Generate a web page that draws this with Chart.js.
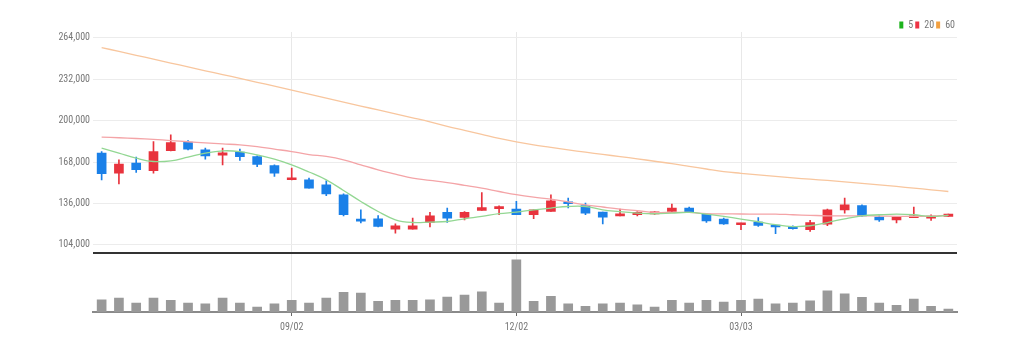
<!DOCTYPE html>
<html>
<head>
<meta charset="utf-8">
<script src="https://cdn.jsdelivr.net/npm/chart.js@4.4.1/dist/chart.umd.min.js"></script>
<style>
  html, body { margin: 0; padding: 0; background: #ffffff; }
  #wrap { position: relative; width: 1020px; height: 351px; }
</style>
</head>
<body>
<div id="wrap"><canvas id="c"></canvas></div>
<script>
// ---- data (weekly candles) ----
const dates = ['06/17','06/24','07/01','07/08','07/15','07/22','07/29','08/05','08/12','08/19',
  '08/26','09/02','09/09','09/16','09/23','09/30','10/07','10/14','10/21','10/28',
  '11/04','11/11','11/18','11/25','12/02','12/09','12/16','12/23','12/30','01/06',
  '01/13','01/20','01/27','02/03','02/10','02/17','02/24','03/03','03/10','03/17',
  '03/24','03/31','04/07','04/14','04/21','04/28','05/05','05/12','05/19','05/26'];

const openP  = [174900,159400,167100,161400,176700,183400,177400,173300,175600,172200,
  165300,154300,154200,150400,142600,123300,124100,116100,116100,121200,
  129000,125100,130500,132000,131600,127200,129700,136700,134400,129300,
  126400,127200,127900,129700,132400,127700,123900,119500,121500,118700,
  118100,115600,120000,131000,134400,125400,123300,124900,124600,125900];
const highP  = [176100,169700,171800,183800,189000,184600,178700,178700,178000,172800,
  165800,163300,155500,153500,143400,131000,126600,120200,124600,129000,
  132400,129700,144400,134100,137500,131000,142600,140100,136200,129300,
  131600,129700,129700,135500,133100,127700,124600,120800,125100,118700,
  118700,122800,131600,140100,134900,126400,125900,133100,127200,127700];
const lowP   = [154200,151100,159900,159400,176600,177400,170200,165800,169200,164500,
  156800,154200,147800,141900,126400,120800,117700,113000,116100,117700,
  121200,123300,130500,127200,127200,124100,129700,132400,127200,120200,
  126400,126400,127400,129000,129000,121200,119700,115600,118100,112500,
  116100,114300,118700,128500,125900,122000,120800,124900,122800,125900];
const closeP = [158900,166400,162000,176100,183000,178000,172800,175100,172200,166100,
  159400,155500,147800,143400,127200,122300,118100,118700,118700,126400,
  124600,129000,132800,133100,127200,131000,138000,135700,128500,125400,
  127700,129000,129300,132400,129500,122500,120200,120800,118900,117700,
  116400,121200,131000,134900,126400,123300,125400,125900,125600,127700];

const volume = [246000,280000,180000,280000,232000,180000,166000,280000,180000,100000,
  166000,232000,180000,280000,392000,380000,212000,232000,232000,246000,
  300000,340000,406000,180000,1046000,212000,312000,166000,112000,166000,
  180000,146000,100000,232000,180000,232000,200000,232000,260000,166000,
  180000,226000,426000,366000,292000,180000,132000,260000,112000,60000];

const ma5  = [178700,174900,171000,168400,168900,171800,174900,176650,176100,173550,
  170200,165800,160300,154200,146000,137500,129700,123300,121200,121500,
  122000,124100,125900,128000,129300,131000,132400,133600,133600,131000,
  129700,128500,128000,128500,129000,127700,125900,123900,121800,119500,
  118100,118700,121200,124100,126400,127200,127700,127200,125900,126700];
const ma20 = [187200,186800,186200,185500,184600,183700,182800,182000,181300,179900,
  178000,176100,173800,172300,169700,165800,162000,158700,155500,153800,
  152100,150000,147800,145200,142700,140800,139300,137100,134900,133200,
  131600,130300,129000,129000,129000,128100,127900,127800,127700,127700,
  127200,126800,126400,126400,126400,126200,126000,125900,126200,126700];
const ma60 = [256500,253600,250600,247600,244600,241700,238600,235700,232700,229700,
  226700,223600,220600,217500,214400,211300,208300,205200,202200,199100,
  195600,192500,189400,186300,183600,181300,179400,177400,175600,173900,
  172200,170500,168600,166800,164700,162600,160600,159300,158100,156900,
  155800,154700,153800,152700,151500,150400,149100,147800,146500,145200];

const maNames = ['5', '20', '60'];
const yTickValues = [104000, 136000, 168000, 200000, 232000, 264000];
const xTickLabels = ['09/02', '12/02', '03/03'];

// ---- styles ----
const UP = '#e8333d', DOWN = '#1a80e8';
const lineColors = ['#93d793', '#f4a4a7', '#f8c69e'];
const legendColors = ['#1db31d', '#ee3344', '#f2a040'];
const FONT = '"Liberation Sans Narrow", "Roboto Condensed", "DejaVu Sans Condensed", "Liberation Sans", sans-serif';

const candleColors = closeP.map((c, i) => c >= openP[i] ? UP : DOWN);

Chart.defaults.font.family = FONT;
Chart.defaults.font.size = 10;
Chart.defaults.color = '#777';

const legendHeight = {
  id: 'legendHeight',
  beforeInit(chart) {
    const lg = chart.legend;
    if (lg) {
      const origFit = lg.fit;
      lg.fit = function () { origFit.call(this); this.height = 14; };
    }
  }
};

new Chart(document.getElementById('c'), {
  type: 'bar',
  data: {
    labels: dates,
    datasets: [
      { type: 'line', label: maNames[0], data: ma5, yAxisID: 'y', borderColor: lineColors[0],
        borderWidth: 1.3, pointRadius: 0, tension: 0.4, fill: false, order: 0 },
      { type: 'line', label: maNames[1], data: ma20, yAxisID: 'y', borderColor: lineColors[1],
        borderWidth: 1.3, pointRadius: 0, tension: 0.4, fill: false, order: 0 },
      { type: 'line', label: maNames[2], data: ma60, yAxisID: 'y', borderColor: lineColors[2],
        borderWidth: 1.3, pointRadius: 0, tension: 0.4, fill: false, order: 0 },
      { label: 'body', data: openP.map((o, i) => [o, closeP[i]]), yAxisID: 'y',
        backgroundColor: candleColors, barThickness: 9, minBarLength: 2, grouped: false, order: 1 },
      { label: 'wick', data: lowP.map((l, i) => [l, highP[i]]), yAxisID: 'y',
        backgroundColor: candleColors, barThickness: 1, grouped: false, order: 2 },
      { label: 'volume', data: volume, yAxisID: 'yv',
        backgroundColor: '#999999', barThickness: 9, grouped: false, order: 3 }
    ]
  },
  plugins: [legendHeight],
  options: {
    responsive: true,
    maintainAspectRatio: false,
    animation: false,
    devicePixelRatio: 1,
    layout: { padding: { left: 39, right: 63, top: 18, bottom: 13 } },
    plugins: {
      tooltip: { enabled: false },
      legend: {
        display: true,
        position: 'top',
        align: 'end',
        labels: {
          boxWidth: 4,
          boxHeight: 7,
          padding: 2,
          color: '#777',
          font: { size: 10 },
          generateLabels: () => maNames.map((n, k) => ({
            text: n, fillStyle: legendColors[k], strokeStyle: legendColors[k],
            lineWidth: 0, hidden: false, datasetIndex: k, fontColor: '#777'
          }))
        }
      }
    },
    scales: {
      x: {
        type: 'category',
        offset: true,
        grid: { offset: false, color: '#e8e8e8', tickColor: '#666', tickLength: 4, drawOnChartArea: true },
        border: { color: '#8a8a8a', width: 2 },
        ticks: { autoSkip: false, maxRotation: 0, padding: 5, color: '#777' },
        afterBuildTicks: s => { s.ticks = s.ticks.filter(t => xTickLabels.includes(dates[t.value])); }
      },
      yv: {
        type: 'linear',
        position: 'left',
        stack: 'panels',
        stackWeight: 59.3,
        min: 0,
        max: 1186000,
        ticks: { display: false },
        grid: { color: '#333', lineWidth: 2, drawTicks: false },
        border: { display: false },
        afterBuildTicks: s => { s.ticks = [{ value: s.max }]; },
        afterFit: s => { s.width = 54; }
      },
      y: {
        type: 'linear',
        position: 'left',
        stack: 'panels',
        stackWeight: 221,
        min: 97800,
        max: 268600,
        grid: { color: '#ececec', drawTicks: false },
        border: { display: false },
        ticks: { padding: 3, color: '#777', callback: v => v.toLocaleString('en-US') },
        afterBuildTicks: s => { s.ticks = yTickValues.map(v => ({ value: v })); },
        afterFit: s => { s.width = 54; }
      }
    }
  }
});
</script>
</body>
</html>
